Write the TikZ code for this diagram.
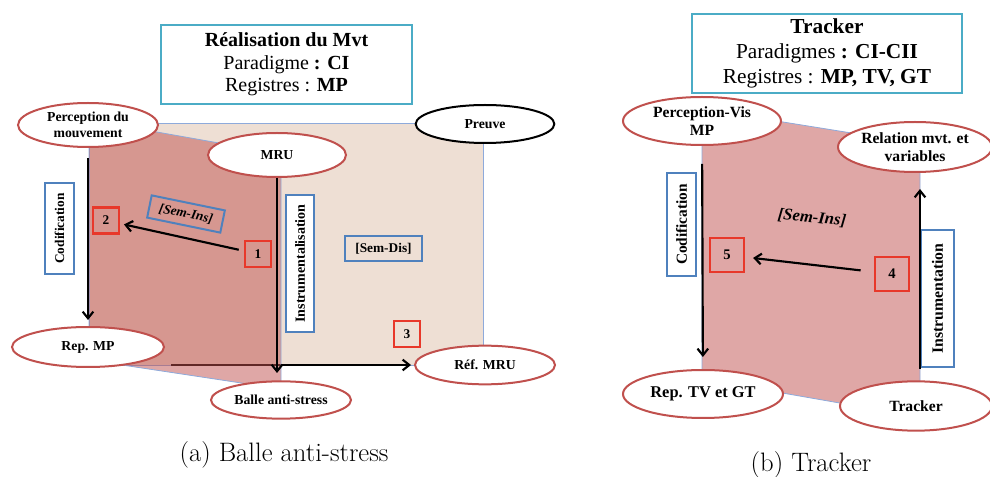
\documentclass[tikz,border=0pt]{standalone}
\usepackage{fontspec}
\newfontfamily\diagfont{Liberation Serif}
\usetikzlibrary{shapes.geometric,arrows.meta}

\definecolor{ellred}{HTML}{C0504D}
\definecolor{boxred}{HTML}{E8382A}
\definecolor{boxblue}{HTML}{4F81BD}
\definecolor{titleblue}{HTML}{4BACC6}
\definecolor{beige}{HTML}{EEDFD4}
\definecolor{edgeblue}{HTML}{8EAADB}

\newcommand{\sz}[2]{\fontsize{#1}{#2}\selectfont}

\pgfdeclarelayer{fond}
\pgfdeclarelayer{dessous}
\pgfsetlayers{fond,dessous,main}

\begin{document}
\begin{tikzpicture}[x=0.75pt, y=-0.75pt, every node/.style={inner sep=2pt},
    etat/.style={ellipse, draw=ellred, line width=1.5pt, fill=white, align=center, inner sep=0pt, font=\diagfont\bfseries\sz{10.3}{12}},
    etatB/.style={etat, font=\diagfont\bfseries\sz{11.7}{13.5}},
    numero/.style={draw=boxred, line width=1.6pt, font=\diagfont\bfseries\sz{10}{12}, minimum width=19.5pt, minimum height=19.5pt},
    cadre/.style={draw=boxblue, line width=1.5pt, font=\diagfont\bfseries\sz{10}{12}},
    titre/.style={draw=titleblue, line width=1.8pt, fill=white, align=center, font=\diagfont\sz{15}{17}},
    fleche/.style={line width=1.6pt, -{Straight Barb[length=5pt,width=8pt]}},
    fond/.style={fill=beige, draw=edgeblue, line width=0.6pt},
    face/.style={fill=ellred, fill opacity=0.5, draw=edgeblue, line width=0.6pt},
    legende/.style={font=\sz{20}{24}}]
    \useasboundingbox (0,0) rectangle (990,477);

    % (a) background and red face
    \begin{pgfonlayer}{fond}
        \filldraw[fond] (89,123) rectangle (483,365);
    \end{pgfonlayer}
    \filldraw[face] (89,120) -- (281,154) -- (281,389) -- (89,360) -- cycle;

    % nodes (a)
    \node[titre, minimum width=188pt, minimum height=59pt] (titreA) at (286.5,64.5)
        {\textbf{Réalisation du Mvt}\\Paradigme \textbf{: CI}\\Registres : \textbf{MP}};
    \node[etat, minimum width=105pt, minimum height=33pt] (percep) at (88,125) {Perception du\\mouvement};
    \node[etat, minimum width=103.5pt, minimum height=33pt] (mru) at (277,155) {MRU};
    \node[etat, draw=black, minimum width=104pt, minimum height=28.5pt] (preuve) at (485,124) {Preuve};
    \node[etat, minimum width=114pt, minimum height=30pt] (repmp) at (88,347) {Rep. MP};
    \node[etat, minimum width=105pt, minimum height=29pt] (refmru) at (485,365) {Réf. MRU};
    \node[etat, minimum width=105pt, minimum height=28pt] (balle) at (281,400) {Balle anti-stress};

    \node[cadre, fill=white, rotate=90, minimum width=68pt, minimum height=22pt] (codA) at (59.5,228.5) {Codification};
    \node[cadre, fill=white, rotate=90, minimum width=103pt, minimum height=21pt, font=\diagfont\bfseries\sz{10.5}{12}] (instrA) at (300,263.5) {Instrumentalisation};
    \node[cadre, rotate=-11.6, minimum width=56pt, minimum height=17pt, inner sep=0pt, font=\diagfont\bfseries\itshape\sz{10}{12}] (semins) at (186,214) {[Sem-Ins]};
    \node[cadre, minimum width=58pt, minimum height=19pt] (semdis) at (383.5,248.5) {[Sem-Dis]};
    \node[numero] (n1) at (258,254) {1};
    \node[numero] (n2) at (106,220.5) {2};
    \node[numero] (n3) at (407,334) {3};
    \node[legende] (capA) at (284,455) {(a) Balle anti-stress};

    % edges (a)
    \begin{pgfonlayer}{dessous}
        \draw[fleche, shorten <=4.5pt, shorten >=2.25pt] (repmp.east |- refmru.west) -- (refmru.west);
    \end{pgfonlayer}
    \draw[fleche, shorten <=7.5pt, shorten >=4.5pt] (percep) -- (repmp);
    \draw[fleche, shorten >=5.5pt] (mru.south) -- (mru.south |- balle.north);
    \draw[fleche, shorten <=4pt, shorten >=3pt] (n1) -- (n2);

    % (b) red face
    \filldraw[face] (702,109) -- (920,144) -- (920,417) -- (702,379) -- cycle;

    % nodes (b)
    \node[titre, minimum width=202.5pt, minimum height=59pt, font=\diagfont\sz{16}{19}] (titreB) at (827,53.5)
        {\textbf{Tracker}\\Paradigmes \textbf{: CI-CII}\\Registres : \textbf{MP, TV, GT}};
    \node[etatB, minimum width=118.5pt, minimum height=36pt] (percvis) at (702,121) {Perception-Vis\\MP};
    \node[etatB, minimum width=115.5pt, minimum height=37.5pt] (relation) at (915,147) {Relation mvt. et\\variables};
    \node[etatB, minimum width=120pt, minimum height=36pt, font=\diagfont\bfseries\sz{12.3}{14}] (reptv) at (703,394) {Rep. TV et GT};
    \node[etatB, minimum width=114pt, minimum height=37pt] (tracker) at (916,406) {Tracker};

    \node[cadre, fill=white, rotate=90, minimum width=77pt, minimum height=22pt, font=\diagfont\bfseries\sz{11.5}{13}] (codB) at (681.5,224.5) {Codification};
    \node[cadre, fill=white, rotate=90, minimum width=103pt, minimum height=25pt, font=\diagfont\bfseries\sz{11.8}{13}] (instrB) at (937.5,298.5) {Instrumentation};
    \node[rotate=-6, font=\diagfont\bfseries\itshape\sz{12.5}{14}] (seminsB) at (812,218) {[Sem-Ins]};
    \node[numero, minimum width=25.5pt, minimum height=25.5pt, font=\diagfont\bfseries\sz{11}{13}] (n4) at (892,274) {4};
    \node[numero, minimum width=25.5pt, minimum height=25.5pt, font=\diagfont\bfseries\sz{11}{13}] (n5) at (727,255) {5};
    \node[legende] (capB) at (811,465) {(b) Tracker};

    % edges (b)
    \draw[fleche, shorten <=13.5pt, shorten >=9pt] (percvis) -- (reptv);
    \draw[fleche, shorten <=8.5pt, shorten >=12pt] ([xshift=3pt]tracker.north) -- ([xshift=3.75pt]relation.south);
    \draw[fleche, shorten <=10pt, shorten >=6pt] (n4) -- (n5);
\end{tikzpicture}
\end{document}
